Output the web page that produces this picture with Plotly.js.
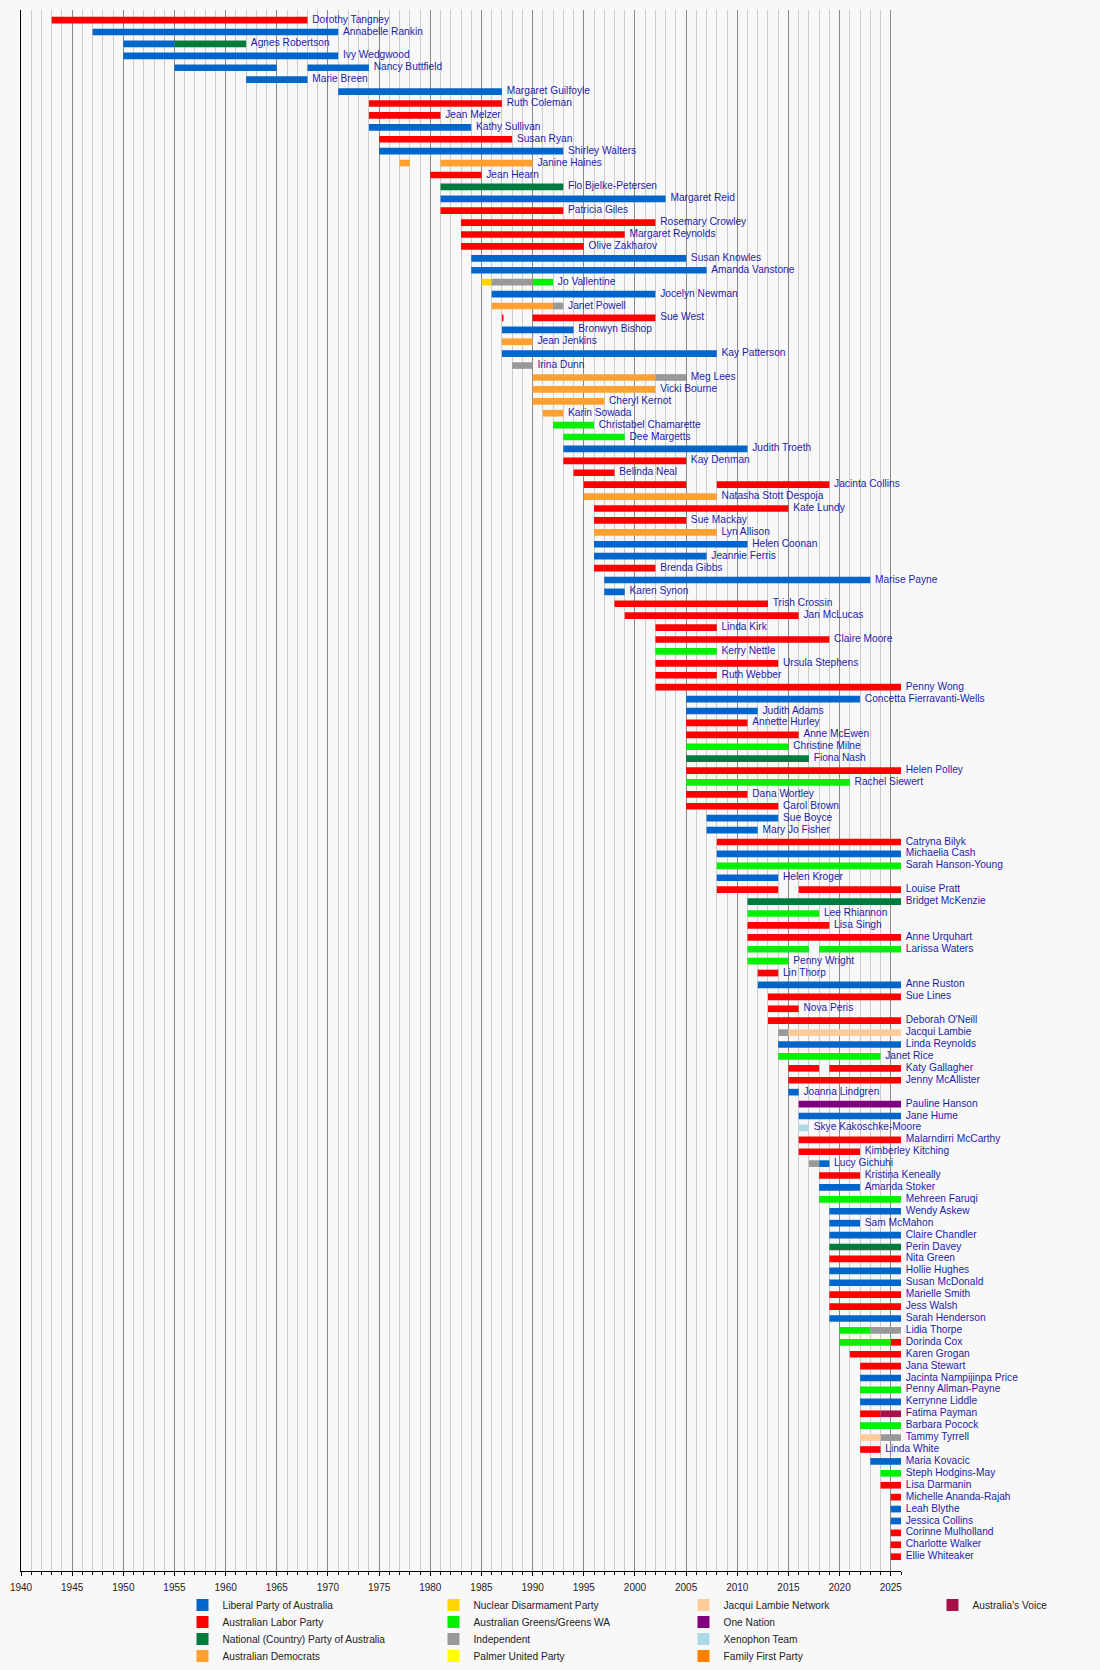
<!DOCTYPE html>
<html>
<head>
<meta charset="utf-8">
<script src="https://cdn.plot.ly/plotly-3.0.1.min.js"></script>
<style>
html,body{margin:0;padding:0;background:#f8f8f8;}
#chart{width:1100px;height:1670px;}
</style>
</head>
<body>
<div id="chart"></div>
<script>
// Senators, top to bottom
const senators = [
"Dorothy Tangney","Annabelle Rankin","Agnes Robertson","Ivy Wedgwood","Nancy Buttfield","Marie Breen",
"Margaret Guilfoyle","Ruth Coleman","Jean Melzer","Kathy Sullivan","Susan Ryan","Shirley Walters",
"Janine Haines","Jean Hearn","Flo Bjelke-Petersen","Margaret Reid","Patricia Giles","Rosemary Crowley",
"Margaret Reynolds","Olive Zakharov","Susan Knowles","Amanda Vanstone","Jo Vallentine","Jocelyn Newman",
"Janet Powell","Sue West","Bronwyn Bishop","Jean Jenkins","Kay Patterson","Irina Dunn","Meg Lees",
"Vicki Bourne","Cheryl Kernot","Karin Sowada","Christabel Chamarette","Dee Margetts","Judith Troeth",
"Kay Denman","Belinda Neal","Jacinta Collins","Natasha Stott Despoja","Kate Lundy","Sue Mackay",
"Lyn Allison","Helen Coonan","Jeannie Ferris","Brenda Gibbs","Marise Payne","Karen Synon",
"Trish Crossin","Jan McLucas","Linda Kirk","Claire Moore","Kerry Nettle","Ursula Stephens",
"Ruth Webber","Penny Wong","Concetta Fierravanti-Wells","Judith Adams","Annette Hurley","Anne McEwen",
"Christine Milne","Fiona Nash","Helen Polley","Rachel Siewert","Dana Wortley","Carol Brown","Sue Boyce",
"Mary Jo Fisher","Catryna Bilyk","Michaelia Cash","Sarah Hanson-Young","Helen Kroger","Louise Pratt",
"Bridget McKenzie","Lee Rhiannon","Lisa Singh","Anne Urquhart","Larissa Waters","Penny Wright",
"Lin Thorp","Anne Ruston","Sue Lines","Nova Peris","Deborah O'Neill","Jacqui Lambie","Linda Reynolds",
"Janet Rice","Katy Gallagher","Jenny McAllister","Joanna Lindgren","Pauline Hanson","Jane Hume",
"Skye Kakoschke-Moore","Malarndirri McCarthy","Kimberley Kitching","Lucy Gichuhi","Kristina Keneally",
"Amanda Stoker","Mehreen Faruqi","Wendy Askew","Sam McMahon","Claire Chandler","Perin Davey",
"Nita Green","Hollie Hughes","Susan McDonald","Marielle Smith","Jess Walsh","Sarah Henderson",
"Lidia Thorpe","Dorinda Cox","Karen Grogan","Jana Stewart","Jacinta Nampijinpa Price",
"Penny Allman-Payne","Kerrynne Liddle","Fatima Payman","Barbara Pocock","Tammy Tyrrell","Linda White",
"Maria Kovacic","Steph Hodgins-May","Lisa Darmanin","Michelle Ananda-Rajah","Leah Blythe",
"Jessica Collins","Corinne Mulholland","Charlotte Walker","Ellie Whiteaker"
];

// Terms per party: [senator, start year, end year]
const liberal = [
["Annabelle Rankin",1947,1971],["Agnes Robertson",1950,1955],["Ivy Wedgwood",1950,1971],
["Nancy Buttfield",1955,1965],["Nancy Buttfield",1968,1974],["Marie Breen",1962,1968],
["Margaret Guilfoyle",1971,1987],["Kathy Sullivan",1974,1984],["Shirley Walters",1975,1993],
["Margaret Reid",1981,2003],["Susan Knowles",1984,2005],["Amanda Vanstone",1984,2007],
["Jocelyn Newman",1986,2002],["Bronwyn Bishop",1987,1994],["Kay Patterson",1987,2008],
["Judith Troeth",1993,2011],["Helen Coonan",1996,2011],["Jeannie Ferris",1996,2007],
["Marise Payne",1997,2023],["Karen Synon",1997,1999],["Concetta Fierravanti-Wells",2005,2022],
["Judith Adams",2005,2012],["Sue Boyce",2007,2014],["Mary Jo Fisher",2007,2012],
["Michaelia Cash",2008,2026],["Helen Kroger",2008,2014],["Anne Ruston",2012,2026],
["Linda Reynolds",2014,2026],["Joanna Lindgren",2015,2016],["Jane Hume",2016,2026],
["Lucy Gichuhi",2018,2019],["Amanda Stoker",2018,2022],["Wendy Askew",2019,2026],
["Sam McMahon",2019,2022],["Claire Chandler",2019,2026],["Hollie Hughes",2019,2026],
["Susan McDonald",2019,2026],["Sarah Henderson",2019,2026],["Jacinta Nampijinpa Price",2022,2026],
["Kerrynne Liddle",2022,2026],["Maria Kovacic",2023,2026],["Leah Blythe",2025,2026],
["Jessica Collins",2025,2026]
];
const labor = [
["Dorothy Tangney",1943,1968],["Ruth Coleman",1974,1987],["Jean Melzer",1974,1981],
["Susan Ryan",1975,1988],["Jean Hearn",1980,1985],["Patricia Giles",1981,1993],
["Rosemary Crowley",1983,2002],["Margaret Reynolds",1983,1999],["Olive Zakharov",1983,1995],
["Sue West",1987,1987.15],["Sue West",1990,2002],["Kay Denman",1993,2005],["Belinda Neal",1994,1998],
["Jacinta Collins",1995,2005],["Jacinta Collins",2008,2019],["Kate Lundy",1996,2015],
["Sue Mackay",1996,2005],["Brenda Gibbs",1996,2002],["Trish Crossin",1998,2013],
["Jan McLucas",1999,2016],["Linda Kirk",2002,2008],["Claire Moore",2002,2019],
["Ursula Stephens",2002,2014],["Ruth Webber",2002,2008],["Penny Wong",2002,2026],
["Annette Hurley",2005,2011],["Anne McEwen",2005,2016],["Helen Polley",2005,2026],
["Dana Wortley",2005,2011],["Carol Brown",2005,2014],["Catryna Bilyk",2008,2026],
["Louise Pratt",2008,2014],["Louise Pratt",2016,2026],["Lisa Singh",2011,2019],
["Anne Urquhart",2011,2026],["Lin Thorp",2012,2014],["Sue Lines",2013,2026],
["Nova Peris",2013,2016],["Deborah O'Neill",2013,2026],["Katy Gallagher",2015,2018],
["Katy Gallagher",2019,2026],["Jenny McAllister",2015,2026],["Malarndirri McCarthy",2016,2026],
["Kimberley Kitching",2016,2022],["Kristina Keneally",2018,2022],["Nita Green",2019,2026],
["Marielle Smith",2019,2026],["Jess Walsh",2019,2026],["Dorinda Cox",2025,2026],
["Karen Grogan",2021,2026],["Jana Stewart",2022,2026],["Fatima Payman",2022,2024],
["Linda White",2022,2024],["Lisa Darmanin",2024,2026],["Michelle Ananda-Rajah",2025,2026],
["Corinne Mulholland",2025,2026],["Charlotte Walker",2025,2026],["Ellie Whiteaker",2025,2026]
];
const national = [
["Agnes Robertson",1955,1962],["Flo Bjelke-Petersen",1981,1993],["Fiona Nash",2005,2017],
["Bridget McKenzie",2011,2026],["Perin Davey",2019,2026]
];
const democrats = [
["Janine Haines",1977,1978],["Janine Haines",1981,1990],["Janet Powell",1986,1992],
["Jean Jenkins",1987,1990],["Meg Lees",1990,2002],["Vicki Bourne",1990,2002],
["Cheryl Kernot",1990,1997],["Karin Sowada",1991,1993],["Natasha Stott Despoja",1995,2008],
["Lyn Allison",1996,2008]
];
const nuclearDisarmament = [["Jo Vallentine",1985,1986]];
const greens = [
["Jo Vallentine",1990,1992],["Christabel Chamarette",1992,1996],["Dee Margetts",1993,1999],
["Kerry Nettle",2002,2008],["Christine Milne",2005,2015],["Rachel Siewert",2005,2021],
["Sarah Hanson-Young",2008,2026],["Lee Rhiannon",2011,2018],["Larissa Waters",2011,2017],
["Larissa Waters",2018,2026],["Penny Wright",2011,2015],["Janet Rice",2014,2024],
["Mehreen Faruqi",2018,2026],["Lidia Thorpe",2020,2023],["Dorinda Cox",2020,2025],
["Penny Allman-Payne",2022,2026],["Barbara Pocock",2022,2026],["Steph Hodgins-May",2024,2026]
];
const independent = [
["Jo Vallentine",1986,1990],["Janet Powell",1992,1993],["Irina Dunn",1988,1990],
["Meg Lees",2002,2005],["Jacqui Lambie",2014,2015],["Lucy Gichuhi",2017,2018],
["Lidia Thorpe",2023,2026],["Tammy Tyrrell",2024,2026]
];
const palmerUnited = [];
const jacquiLambieNetwork = [["Jacqui Lambie",2015,2026],["Tammy Tyrrell",2022,2024]];
const oneNation = [["Pauline Hanson",2016,2026]];
const xenophonTeam = [["Skye Kakoschke-Moore",2016,2017]];
const familyFirst = [];
const australiasVoice = [["Fatima Payman",2024,2026]];

// Legend order (column-major) and colours
const partyNames = [
"Liberal Party of Australia","Australian Labor Party","National (Country) Party of Australia","Australian Democrats",
"Nuclear Disarmament Party","Australian Greens/Greens WA","Independent","Palmer United Party",
"Jacqui Lambie Network","One Nation","Xenophon Team","Family First Party",
"Australia's Voice"
];
const partyTerms = [liberal,labor,national,democrats,nuclearDisarmament,greens,independent,palmerUnited,
  jacquiLambieNetwork,oneNation,xenophonTeam,familyFirst,australiasVoice];
const partyColors = ["#0066cc","#ff0000","#007a3d","#ffa030","#ffd500","#00f000","#999999","#ffff00",
  "#ffcc99","#800080","#add8e6","#ff8000","#a8104a"];

const yearRange = [1940, 2026];

// ---- build ----
const rowOf = {};
senators.forEach((n,i)=>rowOf[n]=i);
const traces = [];
const layoutLegends = {};
const W=1100,H=1670,ML=21,MR=199,MT=10,MB=99;
const legColX=[182.5,433.5,683.5,932.5], legRowY=[1605,1622,1639,1656];
const FONT="Liberation Sans, Arial, sans-serif";

partyNames.forEach((p,i)=>{
  const terms = partyTerms[i];
  const legKey = i===0 ? "legend" : "legend"+(i+1);
  const empty = terms.length===0;
  traces.push({
    type:"bar", orientation:"h", name:p,
    y: empty ? [null] : terms.map(t=>rowOf[t[0]]),
    base: empty ? [null] : terms.map(t=>t[1]),
    x: empty ? [null] : terms.map(t=>t[2]-t[1]),
    width: 0.56,
    marker:{color:partyColors[i], line:{width:0}},
    hoverinfo:"skip",
    legend: legKey,
    showlegend:true
  });
  const c=Math.floor(i/4), r=i%4;
  layoutLegends[legKey] = {
    xref:"container", yref:"container",
    x:legColX[c]/W, y:1-legRowY[r]/H,
    xanchor:"left", yanchor:"middle",
    bgcolor:"rgba(0,0,0,0)", borderwidth:0,
    font:{family:FONT, size:10.2, color:"#222"},
    itemclick:false, itemdoubleclick:false
  };
});

// labels at the end of each senator's last term
const allTerms = [].concat(...partyTerms);
const lastEnd = senators.map(n=>Math.max(...allTerms.filter(t=>t[0]===n).map(t=>t[2])));
traces.push({
  type:"scatter", mode:"markers+text",
  x:lastEnd, y:senators.map((n,i)=>i), text:senators,
  marker:{size:6, opacity:0},
  textposition:"middle right",
  textfont:{family:FONT, size:10.2, color:"#1c1cab"},
  cliponaxis:false, showlegend:false, hoverinfo:"skip"
});

const layout = Object.assign({
  width:W, height:H,
  margin:{l:ML,r:MR,t:MT,b:MB,pad:0,autoexpand:false},
  paper_bgcolor:"#f8f8f8", plot_bgcolor:"#f8f8f8",
  barmode:"overlay",
  xaxis:{
    range:yearRange, tickmode:"linear", tick0:1940, dtick:5,
    showgrid:true, gridcolor:"#8a8a8a", gridwidth:1,
    ticks:"outside", ticklen:4, tickcolor:"#000", tickwidth:1,
    ticklabelstandoff:3,
    showline:true, linecolor:"#000", linewidth:1, zeroline:false,
    tickfont:{family:FONT, size:10, color:"#222"},
    minor:{tick0:1940, dtick:1, showgrid:true, gridcolor:"#cccccc", gridwidth:1,
      ticks:"outside", ticklen:3, tickcolor:"#000"},
    fixedrange:true
  },
  yaxis:{
    range:[130.2,-0.85], showgrid:false, zeroline:false, showticklabels:false,
    showline:true, linecolor:"#000", linewidth:1, ticks:"", fixedrange:true
  },
  showlegend:true
}, layoutLegends);

Plotly.newPlot("chart", traces, layout, {displayModeBar:false, staticPlot:true});
</script>
</body>
</html>
